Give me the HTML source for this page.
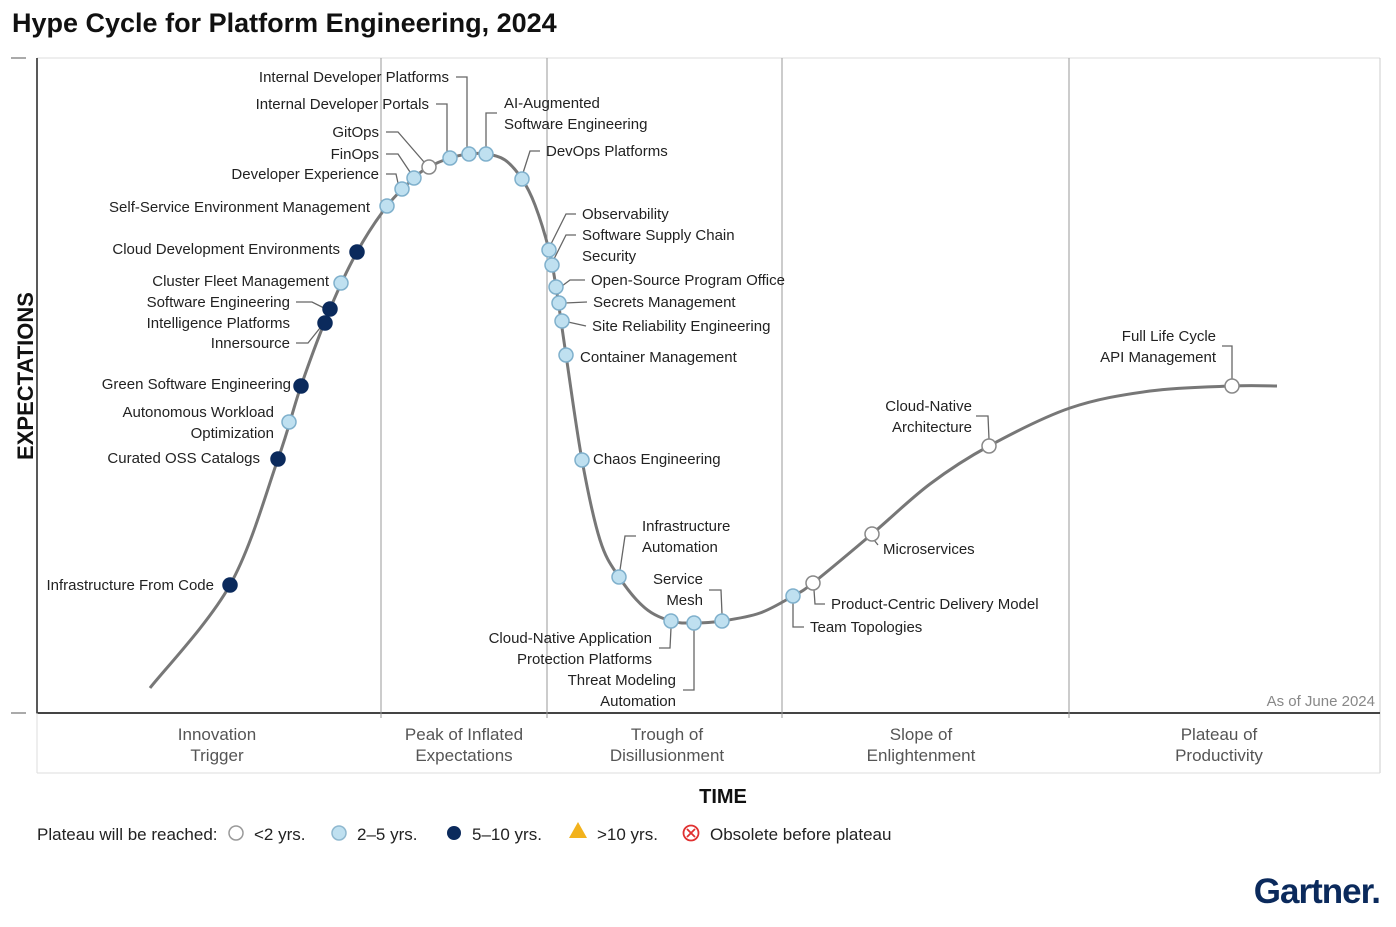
<!DOCTYPE html>
<html><head><meta charset="utf-8">
<style>
body{margin:0;background:#fff;width:1396px;height:922px;overflow:hidden;font-family:"Liberation Sans",sans-serif}
svg text{font-family:"Liberation Sans",sans-serif}
</style></head>
<body>
<svg id="chart" width="1396" height="922" xmlns="http://www.w3.org/2000/svg">
<text x="12" y="32" font-size="27" font-weight="bold" fill="#111">Hype Cycle for Platform Engineering, 2024</text>
<g>
<line x1="37" y1="58" x2="1380" y2="58" stroke="#ddd"/>
<line x1="1380" y1="58" x2="1380" y2="773" stroke="#ccc"/>
<line x1="37" y1="58" x2="37" y2="714" stroke="#222" stroke-width="1.5"/>
<line x1="37" y1="713" x2="1380" y2="713" stroke="#444" stroke-width="2"/>
<line x1="37" y1="713" x2="37" y2="773" stroke="#ddd"/>
<line x1="37" y1="773" x2="1380" y2="773" stroke="#ddd"/>
<line x1="11" y1="58" x2="26" y2="58" stroke="#555"/>
<line x1="11" y1="713" x2="26" y2="713" stroke="#555"/>
<line x1="381" y1="58" x2="381" y2="718" stroke="#999"/>
<line x1="547" y1="58" x2="547" y2="718" stroke="#999"/>
<line x1="782" y1="58" x2="782" y2="718" stroke="#999"/>
<line x1="1069" y1="58" x2="1069" y2="718" stroke="#999"/>
</g>
<text transform="translate(33,376) rotate(-90)" text-anchor="middle" font-size="22" font-weight="bold" fill="#111">EXPECTATIONS</text>
<text x="723" y="803" text-anchor="middle" font-size="20" font-weight="bold" fill="#111">TIME</text>
<text x="1375" y="706" text-anchor="end" font-size="15" fill="#888">As of June 2024</text>
<g id="phases" font-size="17" fill="#555" text-anchor="middle"></g>
<path id="curve" fill="none" stroke="#777" stroke-width="3"/>
<g id="leaders" stroke="#666" stroke-width="1.3" fill="none"></g>
<g id="points"></g>
<g id="labels" font-size="15" fill="#222"></g>
<g font-size="17" fill="#222">
<text x="37" y="840">Plateau will be reached:</text>
<g><circle cx="236" cy="833" r="7" fill="#fff" stroke="#999" stroke-width="1.5"/><text x="254" y="840">&lt;2 yrs.</text></g>
<g><circle cx="339" cy="833" r="7" fill="#bfe0f0" stroke="#8fb8cf" stroke-width="1.5"/><text x="357" y="840">2–5 yrs.</text></g>
<g><circle cx="454" cy="833" r="7" fill="#0b2a5c"/><text x="472" y="840">5–10 yrs.</text></g>
<g><polygon points="578,822 587,838 569,838" fill="#f2b21c"/><text x="597" y="840">&gt;10 yrs.</text></g>
<g><circle cx="691" cy="833" r="7.5" fill="#fff" stroke="#e03030" stroke-width="1.8"/><path d="M687,829 L695,837 M695,829 L687,837" stroke="#e03030" stroke-width="1.8"/><text x="710" y="840">Obsolete before plateau</text></g>
</g>
<text x="1380" y="903" text-anchor="end" font-size="35" font-weight="bold" fill="#0b2a5c" letter-spacing="-1">Gartner.</text>
</svg>
<script>
// time and expectation axis units (time: 0..1343, expectation: 0..655)
const curveTime=[113,193,241,264,293,320,350,377,392,413,432,449,468,485,498,512,519,529,545,563,582,608,634,657,685,723,756,776,835,893,952,1033,1113,1195,1240];
const curveExp=[25,128,254,327,404,461,507,535,546,555,559,559,553,534,508,463,426,358,253,173,136,105,92,90,92,100,117,130,179,229,267,305,322,327,327];
const names=["Internal Developer Platforms","Internal Developer Portals","GitOps","FinOps","Developer Experience","Self-Service Environment Management","Cloud Development Environments","Cluster Fleet Management","Software Engineering Intelligence Platforms","Innersource","Green Software Engineering","Autonomous Workload Optimization","Curated OSS Catalogs","Infrastructure From Code","AI-Augmented Software Engineering","DevOps Platforms","Observability","Software Supply Chain Security","Open-Source Program Office","Secrets Management","Site Reliability Engineering","Container Management","Chaos Engineering","Infrastructure Automation","Service Mesh","Cloud-Native Application Protection Platforms","Threat Modeling Automation","Product-Centric Delivery Model","Team Topologies","Microservices","Cloud-Native Architecture","Full Life Cycle API Management"];
const itemTime=[432,413,392,377,365,350,320,304,293,288,264,252,241,193,449,485,512,515,519,522,525,529,545,582,685,634,657,776,756,835,952,1195];
const itemExp=[559,555,546,535,524,507,461,430,404,390,327,291,254,128,559,534,463,448,426,410,392,358,253,136,92,92,90,130,117,179,267,327];
// 0 = <2 yrs, 1 = 2-5 yrs, 2 = 5-10 yrs
const maturity=[1,1,0,1,1,1,2,1,2,2,2,1,2,2,1,1,1,1,1,1,1,1,1,1,1,1,1,0,1,0,0,0];
// label layout: [lines, x, firstLineY, anchor, leader polyline]
const layout=[
[["Internal Developer Platforms"],449,82,"end",[[456,77],[467,77],[467,148]]],
[["Internal Developer Portals"],429,109,"end",[[436,104],[447,104],[447,152]]],
[["GitOps"],379,137,"end",[[386,132],[398,132],[424,162]]],
[["FinOps"],379,159,"end",[[386,154],[398,154],[410,172]]],
[["Developer Experience"],379,179,"end",[[386,174],[396,174],[398,183]]],
[["Self-Service Environment Management"],370,212,"end",[]],
[["Cloud Development Environments"],340,254,"end",[]],
[["Cluster Fleet Management"],329,286,"end",[]],
[["Software Engineering","Intelligence Platforms"],290,307,"end",[[296,302],[312,302],[324,308]]],
[["Innersource"],290,348,"end",[[296,343],[308,343],[320,328]]],
[["Green Software Engineering"],291,389,"end",[]],
[["Autonomous Workload","Optimization"],274,417,"end",[]],
[["Curated OSS Catalogs"],260,463,"end",[]],
[["Infrastructure From Code"],214,590,"end",[]],
[["AI-Augmented","Software Engineering"],504,108,"start",[[497,113],[486,113],[486,148]]],
[["DevOps Platforms"],546,156,"start",[[540,151],[530,151],[523,173]]],
[["Observability"],582,219,"start",[[576,214],[566,214],[551,244]]],
[["Software Supply Chain","Security"],582,240,"start",[[576,235],[566,235],[554,259]]],
[["Open-Source Program Office"],591,285,"start",[[585,280],[570,280],[562,286]]],
[["Secrets Management"],593,307,"start",[[587,302],[565,303]]],
[["Site Reliability Engineering"],592,331,"start",[[586,326],[568,322]]],
[["Container Management"],580,362,"start",[]],
[["Chaos Engineering"],593,464,"start",[]],
[["Infrastructure","Automation"],642,531,"start",[[636,536],[625,536],[620,570]]],
[["Service","Mesh"],703,584,"end",[[709,590],[721,590],[722,614]]],
[["Cloud-Native Application","Protection Platforms"],652,643,"end",[[659,648],[670,648],[671,628]]],
[["Threat Modeling","Automation"],676,685,"end",[[683,690],[694,690],[694,630]]],
[["Product-Centric Delivery Model"],831,609,"start",[[825,604],[815,604],[814,590]]],
[["Team Topologies"],810,632,"start",[[804,627],[793,627],[793,603]]],
[["Microservices"],883,554,"start",[[878,545],[874,540]]],
[["Cloud-Native","Architecture"],972,411,"end",[[976,416],[988,416],[989,439]]],
[["Full Life Cycle","API Management"],1216,341,"end",[[1222,346],[1232,346],[1232,379]]]
];
const phaseNames=[["Innovation","Trigger"],["Peak of Inflated","Expectations"],["Trough of","Disillusionment"],["Slope of","Enlightenment"],["Plateau of","Productivity"]];
const phaseCenters=[180,427,630,884,1182];

const xScale=v=>37+v, yScale=v=>713-v;
const NS="http://www.w3.org/2000/svg";
function mk(tag,attrs,parent){const e=document.createElementNS(NS,tag);for(const k in attrs)e.setAttribute(k,attrs[k]);parent.appendChild(e);return e;}

// curve (Catmull-Rom)
const P=curveTime.map((t,i)=>[xScale(t),yScale(curveExp[i])]);
let d="M"+P[0][0]+","+P[0][1];
for(let i=0;i<P.length-1;i++){const p0=P[i-1]||P[i],p1=P[i],p2=P[i+1],p3=P[i+2]||P[i+1];
d+=` C${p1[0]+(p2[0]-p0[0])/6},${p1[1]+(p2[1]-p0[1])/6} ${p2[0]-(p3[0]-p1[0])/6},${p2[1]-(p3[1]-p1[1])/6} ${p2[0]},${p2[1]}`;}
document.getElementById('curve').setAttribute('d',d);

const fills=["#ffffff","#bfe0f0","#0b2a5c"], strokes=["#888","#7fb0cc","#0b2a5c"];
const gP=document.getElementById('points'),gL=document.getElementById('labels'),gLd=document.getElementById('leaders');
names.forEach((n,i)=>{
 const c=mk('circle',{cx:xScale(itemTime[i]),cy:yScale(itemExp[i]),r:7,fill:fills[maturity[i]],stroke:strokes[maturity[i]],'stroke-width':1.5},gP);
 
 
 const L=layout[i];
 const t=mk('text',{x:L[1],y:L[2],'text-anchor':L[3]},gL);
 
 
 L[0].forEach((line,j)=>{const s=mk('tspan',{x:L[1],dy:j?21:0},t);s.textContent=line;});
 if(L[4].length){const pl=mk('polyline',{points:L[4].map(p=>p.join(',')).join(' ')},gLd);
 
 }
});
const gPh=document.getElementById('phases');
phaseNames.forEach((p,i)=>{const t=mk('text',{x:phaseCenters[i]+37,y:740},gPh);
 
 
 p.forEach((line,j)=>{const s=mk('tspan',{x:phaseCenters[i]+37,dy:j?21:0},t);s.textContent=line;});});
</script>
</body></html>
